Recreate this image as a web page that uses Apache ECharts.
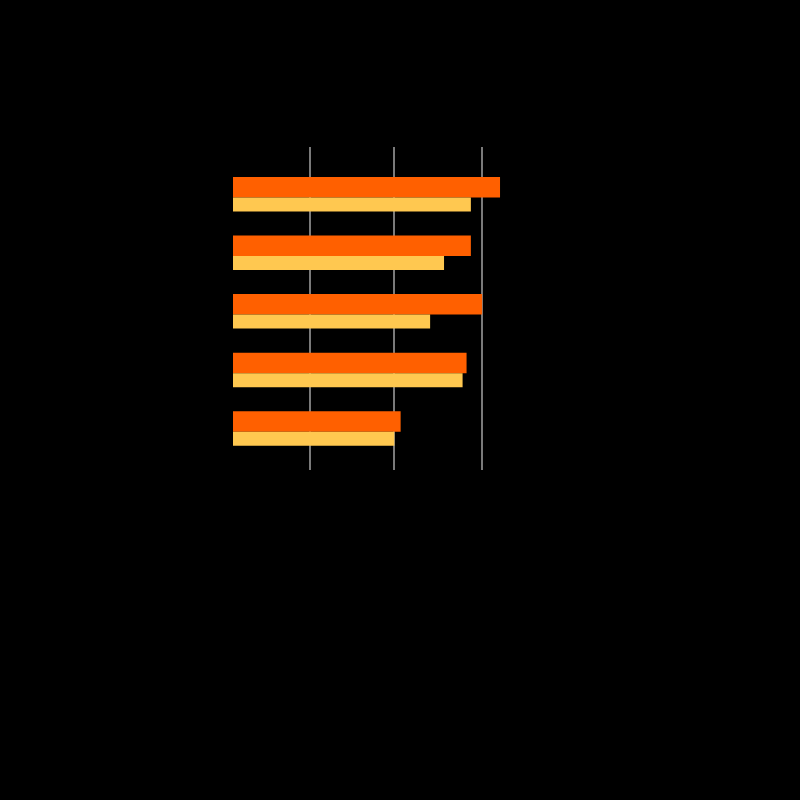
<!DOCTYPE html>
<html>
<head>
<meta charset="utf-8">
<script src="https://cdn.jsdelivr.net/npm/echarts@6/dist/echarts.min.js"></script>
<style>
  html, body { margin: 0; padding: 0; background: #000; }
  #chart { width: 800px; height: 800px; }
</style>
</head>
<body>
<div id="chart"></div>
<script>
// Data (no visible labels in the reference)
const categories = ['A', 'B', 'C', 'D', 'E'];
const seriesOrange = [80.6, 71.8, 75.2, 70.5, 50.6];
const seriesYellow = [71.8, 63.7, 59.5, 69.3, 48.7];
const gridlineValues = [23.3, 48.4, 75.0];

const chart = echarts.init(document.getElementById('chart'));
chart.setOption({
  backgroundColor: '#000000',
  animation: false,
  grid: [
    { left: 233, top: 164.9, width: 331.3, height: 292.9, containLabel: false },
    { left: 233, top: 147, width: 331.3, height: 323, containLabel: false }
  ],
  xAxis: [
    { type: 'value', gridIndex: 0, min: 0, max: 100, show: false },
    { type: 'value', gridIndex: 1, min: 0, max: 100, show: false }
  ],
  yAxis: [
    { type: 'category', gridIndex: 0, data: categories, inverse: true, show: false },
    { type: 'value', gridIndex: 1, min: 0, max: 1, show: false }
  ],
  series: [
    {
      type: 'line',
      xAxisIndex: 1,
      yAxisIndex: 1,
      data: [],
      z: 1,
      silent: true,
      markLine: {
        silent: true,
        symbol: ['none', 'none'],
        z: 1,
        label: { show: false },
        lineStyle: { color: '#7a7a7a', width: 2, type: 'solid' },
        data: gridlineValues.map(v => ({ xAxis: v }))
      }
    },
    {
      name: 'Orange',
      type: 'bar',
      xAxisIndex: 0,
      yAxisIndex: 0,
      data: seriesOrange,
      barWidth: 20.5,
      barGap: '0%',
      z: 3,
      itemStyle: { color: '#ff6000' }
    },
    {
      name: 'Yellow',
      type: 'bar',
      xAxisIndex: 0,
      yAxisIndex: 0,
      data: seriesYellow,
      barWidth: 14,
      barGap: '0%',
      z: 3,
      itemStyle: { color: '#ffc850' }
    }
  ]
});
</script>
</body>
</html>
